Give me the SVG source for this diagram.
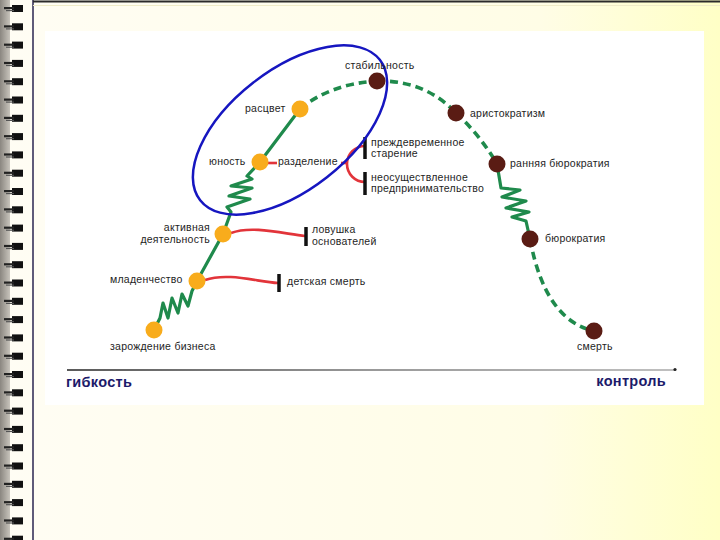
<svg xmlns="http://www.w3.org/2000/svg" width="720" height="540" viewBox="0 0 720 540">
<defs>
<linearGradient id="page" x1="0" y1="0" x2="1" y2="0">
<stop offset="0" stop-color="#fffdf4"/>
<stop offset="0.75" stop-color="#fffde6"/>
<stop offset="1" stop-color="#ffffc6"/>
</linearGradient>
<linearGradient id="strip" x1="0" y1="0" x2="1" y2="0">
<stop offset="0" stop-color="#8a8680"/>
<stop offset="1" stop-color="#c8c4bc"/>
</linearGradient>
<linearGradient id="axis" gradientUnits="userSpaceOnUse" x1="67" y1="0" x2="675" y2="0">
<stop offset="0" stop-color="#222"/>
<stop offset="0.5" stop-color="#777"/>
<stop offset="1" stop-color="#aaa"/>
</linearGradient>
<g id="coil">
<rect x="12" y="0" width="11" height="7" fill="#111"/>
<rect x="4" y="2" width="10" height="2.2" fill="#222"/>
<rect x="6" y="5" width="8" height="1.2" fill="#555"/>
</g>
</defs>
<style>
.lbl{font-family:"Liberation Sans",Arial,sans-serif;font-size:10.5px;fill:#1e1e1e;letter-spacing:0.25px}
.ax{font-family:"Liberation Sans",Arial,sans-serif;font-size:14.5px;font-weight:bold;fill:#1c1a6a;letter-spacing:0.3px}
.solid{fill:none;stroke:#1f8a4c;stroke-width:3.2;stroke-linejoin:round;stroke-linecap:round}
.dash{fill:none;stroke:#1f8a4c;stroke-width:3.6;stroke-dasharray:8 5}
.red{fill:none;stroke:#e2343a;stroke-width:2.6}
.bar{stroke:#111;stroke-width:3.5}
.young{fill:#f8ac1c}
.old{fill:#5a1c14}
</style>
<rect x="0" y="0" width="720" height="540" fill="url(#page)"/>
<rect x="0" y="0" width="10" height="540" fill="url(#strip)"/>
<line x1="33" y1="0" x2="33" y2="540" stroke="#2a2450" stroke-width="1.5"/>
<line x1="33" y1="1.5" x2="720" y2="1.5" stroke="#2a2a2a" stroke-width="2"/>
<line x1="33" y1="5.5" x2="720" y2="5.5" stroke="#f0ecc8" stroke-width="1"/>
<g id="binding">
<use href="#coil" y="5"/><use href="#coil" y="23.3"/><use href="#coil" y="41.6"/><use href="#coil" y="59.9"/><use href="#coil" y="78.2"/><use href="#coil" y="96.5"/><use href="#coil" y="114.8"/><use href="#coil" y="133.1"/><use href="#coil" y="151.4"/><use href="#coil" y="169.7"/><use href="#coil" y="188"/><use href="#coil" y="206.3"/><use href="#coil" y="224.6"/><use href="#coil" y="242.9"/><use href="#coil" y="261.2"/><use href="#coil" y="279.5"/><use href="#coil" y="297.8"/><use href="#coil" y="316.1"/><use href="#coil" y="334.4"/><use href="#coil" y="352.7"/><use href="#coil" y="371"/><use href="#coil" y="389.3"/><use href="#coil" y="407.6"/><use href="#coil" y="425.9"/><use href="#coil" y="444.2"/><use href="#coil" y="462.5"/><use href="#coil" y="480.8"/><use href="#coil" y="499.1"/><use href="#coil" y="517.4"/><use href="#coil" y="535.7"/>
</g>
<rect x="45" y="31" width="659" height="374" fill="#ffffff"/>

<g id="connectors">
<polyline class="solid" points="154,330 160,318 163,303 168,318 172,298 178,313 182,294 188,306 192,291 197,281"/>
<line class="solid" x1="197" y1="281" x2="223" y2="234"/>
<polyline class="solid" points="223,234 231,212 227,207 250,199 229,196 252,188 231,186 252,179 247,176 260,162"/>
<line class="solid" x1="260" y1="162" x2="300" y2="109"/>
<path class="dash" d="M300,109 Q330,84 377,81"/>
<path class="dash" d="M377,81 Q425,80 456,113"/>
<path class="dash" d="M456,113 Q480,135 497,164"/>
<polyline class="solid" points="497,164 501,188 520,190 502,197 526,201 506,208 529,212 512,217 526,221 530,239"/>
<path class="dash" d="M530,239 Q545,320 594,331"/>
<path class="red" d="M205,280 C228,272 258,282 278,283"/>
<line class="bar" x1="279" y1="274" x2="279" y2="292"/>
<path class="red" d="M231,233 C252,225 285,234 305,236"/>
<line class="bar" x1="306" y1="227" x2="306" y2="246"/>
<line class="red" x1="267" y1="163" x2="277" y2="163"/>
<line class="red" x1="341" y1="163" x2="347" y2="163"/>
<path class="red" d="M365,146 A18,18 0 0 0 365,182"/>
<line class="bar" x1="365" y1="137" x2="365" y2="159"/>
<line class="bar" x1="365" y1="172" x2="365" y2="195"/>
<line x1="67" y1="370" x2="675" y2="370" stroke="url(#axis)" stroke-width="1.6"/>
<circle cx="675" cy="369.5" r="1.6" fill="#222"/>
<ellipse cx="290" cy="130" rx="114" ry="60" transform="rotate(-38 290 130)" fill="none" stroke="#1616c0" stroke-width="2.5"/>
</g>

<g id="n-zarozhdenie"><circle class="young" cx="154" cy="330" r="8.5"/><text class="lbl" x="110" y="350">зарождение бизнеса</text></g>
<g id="n-mladenchestvo"><circle class="young" cx="197" cy="281" r="8.5"/><text class="lbl" x="110" y="283">младенчество</text></g>
<g id="n-aktivnaya"><circle class="young" cx="223" cy="234" r="8.5"/><text class="lbl" x="210" y="231" text-anchor="end">активная</text><text class="lbl" x="210" y="243" text-anchor="end">деятельность</text></g>
<g id="n-yunost"><circle class="young" cx="260" cy="162" r="8.5"/><text class="lbl" x="209" y="165">юность</text><text class="lbl" x="278" y="165">разделение</text></g>
<g id="n-rascvet"><circle class="young" cx="300" cy="109" r="8.5"/><text class="lbl" x="245" y="112">расцвет</text></g>
<g id="n-stabilnost"><circle class="old" cx="377" cy="81" r="8.5"/><text class="lbl" x="345" y="69">стабильность</text></g>
<g id="n-aristokratizm"><circle class="old" cx="456" cy="113" r="8.5"/><text class="lbl" x="470" y="117">аристократизм</text></g>
<g id="n-rannyaya"><circle class="old" cx="497" cy="164" r="8.5"/><text class="lbl" x="510" y="167">ранняя бюрократия</text></g>
<g id="n-byurokratiya"><circle class="old" cx="530" cy="239" r="8.5"/><text class="lbl" x="545" y="242">бюрократия</text></g>
<g id="n-smert"><circle class="old" cx="594" cy="331" r="8.5"/><text class="lbl" x="577" y="350">смерть</text></g>
<g id="t-prezhdevr"><text class="lbl" x="371" y="146">преждевременное</text><text class="lbl" x="371" y="157">старение</text></g>
<g id="t-neosush"><text class="lbl" x="371" y="181">неосуществленное</text><text class="lbl" x="371" y="192">предпринимательство</text></g>
<g id="t-lovushka"><text class="lbl" x="312" y="233">ловушка</text><text class="lbl" x="312" y="245">основателей</text></g>
<g id="t-detskaya"><text class="lbl" x="287" y="285">детская смерть</text></g>
<g id="axis-labels"><text class="ax" x="66" y="387">гибкость</text><text class="ax" x="666" y="386" text-anchor="end">контроль</text></g>
</svg>
